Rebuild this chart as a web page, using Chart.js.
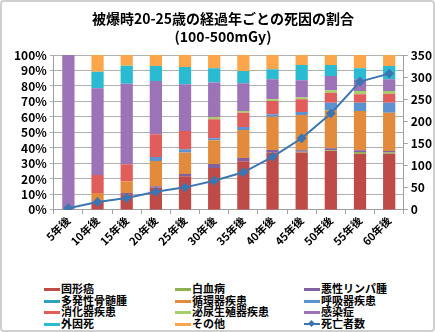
<!DOCTYPE html>
<html>
<head>
<meta charset="utf-8">
<script src="https://cdn.jsdelivr.net/npm/chart.js@4.4.1/dist/chart.umd.min.js"></script>
<style>
  html, body { margin: 0; padding: 0; background: #fff; }
  #wrap { position: relative; width: 435px; height: 332px; box-sizing: border-box;
          border: 2px solid #cfcfcf; border-radius: 4px; overflow: hidden; background: #fff; }
  #box { position: absolute; left: 0; top: 0; width: 433px; height: 246px; }
  #legend { position: absolute; left: 0; top: 281px; width: 431px; height: 48px;
            font-family: "Noto Sans CJK JP", sans-serif; font-weight: bold; font-size: 11px; color: #000; }
  .item { position: absolute; height: 12px; line-height: 12px; white-space: nowrap; }
  .sw { position: absolute; left: 0; top: 5px; width: 16px; height: 3px; }
  .txt { position: absolute; left: 17px; top: -1px; }
</style>
</head>
<body>
<div id="wrap">
  <div id="box"><canvas id="c"></canvas></div>
  <div id="legend"></div>
</div>
<script>
const categories = ['5年後','10年後','15年後','20年後','25年後','30年後','35年後','40年後','45年後','50年後','55年後','60年後'];
const seriesNames = ['固形癌','白血病','悪性リンパ腫','多発性骨髄腫','循環器疾患','呼吸器疾患','消化器疾患','泌尿生殖器疾患','感染症','外因死','その他'];
const solidCancer = [0, 5.5, 10, 14.5, 21.7, 27, 31.5, 37, 37, 38, 36.3, 36.3];
const leukemia    = [0, 0, 0, 0, 0, 0, 0, 0, 0.6, 0.5, 1.1, 0.7];
const lymphoma    = [0, 0, 1, 0.8, 1.5, 2.7, 2, 1.7, 0.9, 1.3, 1.1, 1.1];
const myeloma     = [0, 0, 0, 0, 0, 0, 0, 0, 0, 0, 0, 0];
const circulatory = [0, 5.5, 7.5, 16.3, 13.8, 15.2, 18.1, 21.5, 22.8, 24.5, 25.4, 24.7];
const respiratory = [0, 0, 0, 2.6, 2.1, 1.3, 1.9, 1.5, 1.9, 4.9, 5.3, 6.4];
const digestive   = [0, 11.5, 11, 14.6, 11.9, 12.3, 9.3, 8.6, 8.2, 6.5, 5.4, 5.8];
const urogenital  = [0, 0, 0, 0, 0, 1.5, 1.1, 1.1, 1.1, 1.5, 2.2, 1.8];
const infection   = [100, 56, 52, 34.4, 30.1, 22.2, 17.8, 12.9, 11.2, 9.3, 7.5, 7.5];
const external    = [0, 10.7, 11.5, 9.7, 11.2, 9.2, 8, 6.5, 9.8, 7, 7.1, 8.6];
const other       = [0, 10.8, 7, 7.1, 7.7, 8.6, 10.3, 9.2, 6.5, 6.5, 8.6, 7.1];
const lineName = '死亡者数';
const deaths      = [4, 18, 27, 41, 51, 66, 85, 120, 162, 218, 290, 308];
const leftTicks = [0,10,20,30,40,50,60,70,80,90,100];
const rightTicks = [0,50,100,150,200,250,300,350];

const seriesValues = [solidCancer, leukemia, lymphoma, myeloma, circulatory, respiratory, digestive, urogenital, infection, external, other];
const colors = ['#bf4b48','#8cb052','#8062a3','#2ba3b8','#e38b3c','#5b92cf','#e05d5c','#a6cf6a','#9b73b6','#2abbd2','#fca64c'];
const lineColor = '#3c76b2';
const FONT = '"Noto Sans CJK JP", sans-serif';

const datasets = seriesValues.map((v, i) => ({
  type: 'bar', label: seriesNames[i], data: v, backgroundColor: colors[i],
  yAxisID: 'y', stack: 's', order: 2, barPercentage: 0.42, categoryPercentage: 1
}));
datasets.push({
  type: 'line', label: lineName, data: deaths, yAxisID: 'y1', order: 0,
  borderColor: lineColor, backgroundColor: lineColor, borderWidth: 2,
  pointStyle: 'rectRot', pointRadius: 3.5, pointBackgroundColor: lineColor, tension: 0
});

const chart = new Chart(document.getElementById('c'), {
  data: { labels: categories, datasets },
  options: {
    responsive: true, maintainAspectRatio: false, animation: false,
    layout: { padding: { left: 9, right: 0, top: 0, bottom: 0 } },
    plugins: {
      legend: { display: false },
      tooltip: { enabled: false },
      title: { display: true, text: ['被爆時20-25歳の経過年ごとの死因の割合', '(100-500mGy)'],
               color: '#000', font: { family: FONT, size: 14, weight: 'bold', lineHeight: 1.25 },
               padding: { top: 8, bottom: 10 } }
    },
    scales: {
      x: { stacked: true, offset: true,
           grid: { display: true, drawOnChartArea: false, offset: true, tickLength: 4, color: '#a0a0a0' },
           border: { color: '#a0a0a0' },
           ticks: { minRotation: 45, maxRotation: 45, color: '#000', padding: 0, autoSkip: false,
                    font: { family: FONT, size: 11, weight: 'bold' } } },
      y: { stacked: true, position: 'left', min: 0, max: 100,
           afterBuildTicks: a => { a.ticks = leftTicks.map(v => ({ value: v })); },
           grid: { color: '#b0b0b0', tickLength: 4 },
           border: { color: '#a0a0a0' },
           ticks: { color: '#000', padding: 3, autoSkip: false, callback: v => v + '%',
                    font: { family: FONT, size: 12, weight: 'bold' } } },
      y1: { position: 'right', min: 0, max: 350,
            afterBuildTicks: a => { a.ticks = rightTicks.map(v => ({ value: v })); },
            grid: { drawOnChartArea: false, tickLength: 4, color: '#a0a0a0' },
            border: { color: '#a0a0a0' },
            ticks: { color: '#000', padding: 3, autoSkip: false,
                     font: { family: FONT, size: 12, weight: 'bold' } } }
    }
  }
});

// Custom legend laid out in 3 columns, built from the chart's datasets
const legend = document.getElementById('legend');
const colX = [42, 173, 302];
const rowY = [0, 11.5, 23, 35];
chart.data.datasets.forEach((ds, i) => {
  const col = i % 3, row = Math.floor(i / 3);
  const it = document.createElement('div');
  it.className = 'item';
  it.style.left = colX[col] + 'px';
  it.style.top = rowY[row] + 'px';
  const sw = document.createElement('div');
  sw.className = 'sw';
  sw.style.background = ds.type === 'line' ? ds.borderColor : ds.backgroundColor;
  if (ds.type === 'line') { sw.style.height = '2px'; }
  it.appendChild(sw);
  if (ds.type === 'line') {
    const m = document.createElement('div');
    m.style.cssText = 'position:absolute;left:5px;top:3px;width:5px;height:5px;transform:rotate(45deg);background:' + ds.borderColor;
    it.appendChild(m);
  }
  const t = document.createElement('span');
  t.className = 'txt';
  t.textContent = ds.label;
  it.appendChild(t);
  legend.appendChild(it);
});
</script>
</body>
</html>
